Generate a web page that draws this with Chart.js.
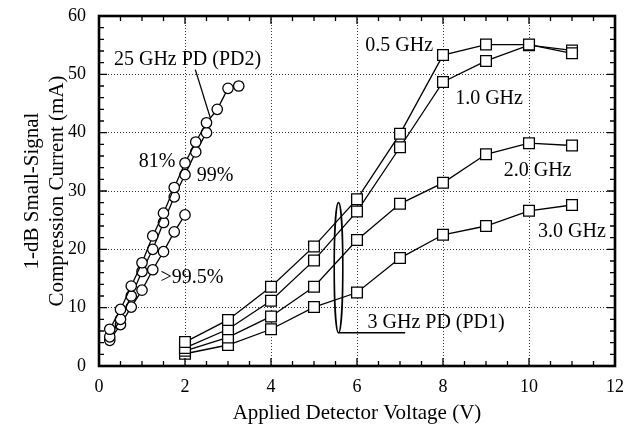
<!DOCTYPE html>
<html><head><meta charset="utf-8">
<script src="https://cdn.jsdelivr.net/npm/chart.js@4.4.1/dist/chart.umd.min.js"></script>
<style>html,body{margin:0;padding:0;background:#fff}#wrap{width:637px;height:432px;position:relative}</style>
</head><body><div id="wrap"><canvas id="c"></canvas></div>
<script>
// ---- Data ----
const pd1Voltage = [2, 3, 4, 5, 6, 7, 8, 9, 10, 11];
const pd1_05GHz = [4.1, 7.9, 13.6, 20.5, 28.6, 39.8, 53.3, 55.1, 55.1, 53.6];
const pd1_10GHz = [3.1, 6.3, 11.2, 18.1, 26.5, 37.5, 48.7, 52.3, 55.0, 54.1];
const pd1_20GHz = [2.6, 4.9, 8.5, 13.6, 21.6, 27.8, 31.4, 36.3, 38.2, 37.8];
const pd1_30GHz = [2.1, 3.6, 6.3, 10.1, 12.6, 18.5, 22.5, 24.0, 26.6, 27.6];

const pd2Voltage81 = [0.25, 0.5, 0.75, 1.0, 1.25, 1.5, 1.75, 2.0, 2.25, 2.5, 2.75, 3.0, 3.25];
const pd2_81 = [6.3, 9.7, 13.7, 17.7, 22.3, 26.2, 30.6, 34.8, 38.4, 41.7, 44.0, 47.6, 48.0];
const pd2Voltage99 = [0.25, 0.5, 0.75, 1.0, 1.25, 1.5, 1.75, 2.0, 2.25, 2.5];
const pd2_99 = [5.0, 8.0, 12.0, 16.2, 20.0, 24.6, 29.0, 32.8, 36.7, 40.0];
const pd2Voltage995 = [0.25, 0.5, 0.75, 1.0, 1.25, 1.5, 1.75, 2.0];
const pd2_995 = [4.4, 7.1, 10.1, 13.0, 16.5, 19.6, 23.0, 25.9];

const xTicks = [0, 2, 4, 6, 8, 10, 12];
const yTicks = [0, 10, 20, 30, 40, 50, 60];

// leader lines (annotation)
const pd2LeaderV = [2.24, 2.59];
const pd2LeaderI = [50.8, 42.5];
const pd1LeaderV = [5.57, 7.12];
const pd1LeaderI = [5.7, 5.7];

// text annotations: text, V, I
const noteTexts = ['25 GHz PD (PD2)', '81%', '99%', '>99.5%', '0.5 GHz', '1.0 GHz', '2.0 GHz', '3.0 GHz', '3 GHz PD (PD1)'];
const noteV = [2.06, 1.35, 2.70, 2.16, 6.98, 9.07, 10.2, 11.0, 7.84];
const noteI = [52.5, 35.1, 32.7, 15.1, 54.9, 45.9, 33.4, 23.0, 7.5];

const FONT = "'Liberation Serif', 'Times New Roman', serif";

const zip = (xs, ys) => xs.map((x, i) => ({x, y: ys[i]}));

function sq(label, ys) {
  return {label, data: zip(pd1Voltage, ys), borderColor: '#000', borderWidth: 1.3,
    pointStyle: 'rect', pointRadius: 7.6, pointBackgroundColor: '#fff', pointBorderColor: '#000',
    pointBorderWidth: 1.3, tension: 0, showLine: true};
}
function circ(label, xs, ys) {
  return {label, data: zip(xs, ys), borderColor: '#000', borderWidth: 1.3,
    pointStyle: 'circle', pointRadius: 5.2, pointBackgroundColor: '#fff', pointBorderColor: '#000',
    pointBorderWidth: 1.3, tension: 0, showLine: true};
}
function leader(xs, ys) {
  return {label: 'leader', data: zip(xs, ys), borderColor: '#000', borderWidth: 1.3,
    pointRadius: 0, showLine: true, tension: 0};
}

const annotPlugin = {
  id: 'annot',
  afterDatasetsDraw(chart) {
    const {ctx, chartArea: a, scales: {x, y}} = chart;
    ctx.save();
    // ellipse around PD1 curves
    const cx = x.getPixelForValue(5.57);
    const cyTop = y.getPixelForValue(28.0), cyBot = y.getPixelForValue(5.7);
    ctx.beginPath();
    ctx.lineWidth = 1.6; ctx.strokeStyle = '#000';
    ctx.ellipse(cx, (cyTop + cyBot) / 2, x.getPixelForValue(5.67) - cx, (cyBot - cyTop) / 2, 0, 0, Math.PI * 2);
    ctx.stroke();
    // texts
    ctx.fillStyle = '#000';
    ctx.font = '20px ' + FONT;
    ctx.textAlign = 'center'; ctx.textBaseline = 'middle';
    noteTexts.forEach((t, i) => {
      ctx.fillText(t, x.getPixelForValue(noteV[i]), y.getPixelForValue(noteI[i]));
    });
    // frame
    ctx.lineWidth = 2.6;
    ctx.strokeRect(a.left, a.top, a.right - a.left, a.bottom - a.top);
    // ticks inward
    ctx.lineWidth = 1.3;
    ctx.beginPath();
    for (let v = 0; v <= 12.0001; v += 0.5) {
      const px = x.getPixelForValue(v);
      const len = (Math.abs(v / 2 - Math.round(v / 2)) < 1e-6) ? 8 : 5;
      ctx.moveTo(px, a.bottom); ctx.lineTo(px, a.bottom - len);
      ctx.moveTo(px, a.top); ctx.lineTo(px, a.top + len);
    }
    for (let v = 0; v <= 60.0001; v += 2) {
      const py = y.getPixelForValue(v);
      const len = (v % 10 === 0) ? 8 : 5;
      ctx.moveTo(a.left, py); ctx.lineTo(a.left + len, py);
      ctx.moveTo(a.right, py); ctx.lineTo(a.right - len, py);
    }
    ctx.stroke();
    ctx.restore();
  }
};

new Chart(document.getElementById('c'), {
  type: 'scatter',
  data: {
    datasets: [
      sq('0.5 GHz', pd1_05GHz), sq('1.0 GHz', pd1_10GHz), sq('2.0 GHz', pd1_20GHz), sq('3.0 GHz', pd1_30GHz),
      circ('81%', pd2Voltage81, pd2_81), circ('99%', pd2Voltage99, pd2_99), circ('>99.5%', pd2Voltage995, pd2_995),
      leader(pd2LeaderV, pd2LeaderI), leader(pd1LeaderV, pd1LeaderI)
    ]
  },
  options: {
    responsive: true, maintainAspectRatio: false, animation: false,
    layout: {padding: {top: 16, right: 22, left: 0, bottom: 0}},
    plugins: {legend: {display: false}, tooltip: {enabled: false}},
    scales: {
      x: {
        type: 'linear', min: 0, max: 12,
        afterBuildTicks: s => { s.ticks = xTicks.map(v => ({value: v})); },
        afterFit: s => { s.height = 66; s.paddingLeft = 0; s.paddingRight = 0; },
        grid: {color: '#333', lineWidth: 1, drawTicks: false},
        border: {display: false, dash: [1, 2]},
        ticks: {color: '#000', font: {family: FONT, size: 18}, padding: 10, maxRotation: 0},
        title: {display: true, text: 'Applied Detector Voltage (V)', color: '#000',
          font: {family: FONT, size: 21}, padding: {top: 0, bottom: 6}}
      },
      y: {
        type: 'linear', min: 0, max: 60,
        afterBuildTicks: s => { s.ticks = yTicks.map(v => ({value: v})); },
        afterFit: s => { s.width = 99; s.paddingTop = 0; s.paddingBottom = 0; },
        grid: {color: '#333', lineWidth: 1, drawTicks: false},
        border: {display: false, dash: [1, 2]},
        ticks: {color: '#000', font: {family: FONT, size: 18}, padding: 13},
        title: {display: true, text: ['1-dB Small-Signal', 'Compression Current (mA)'], color: '#000',
          font: {family: FONT, size: 21, lineHeight: 1.2}, padding: {top: 20, bottom: 0}}
      }
    }
  },
  plugins: [annotPlugin]
});
</script>
</body></html>
